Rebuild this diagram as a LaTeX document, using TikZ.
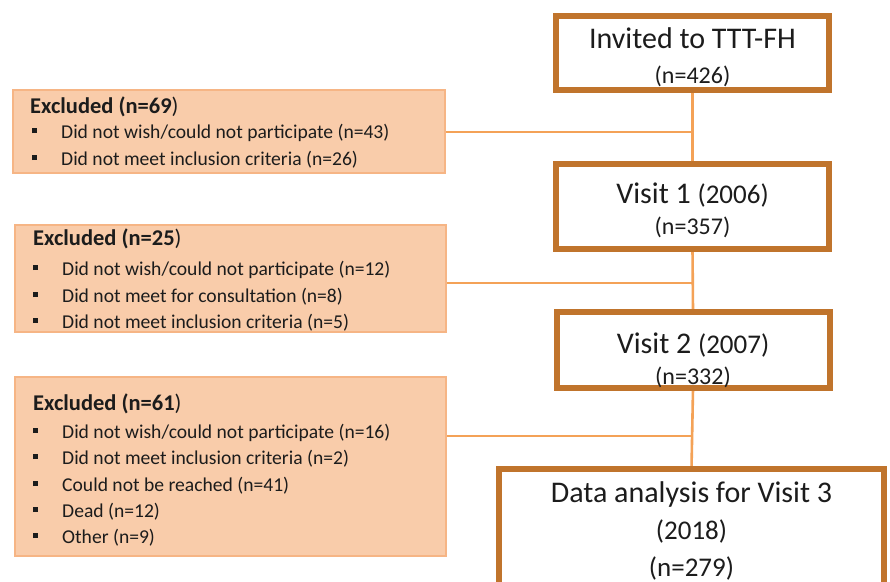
\documentclass[tikz,border=0pt]{standalone}
\usepackage{fontspec}
\setmainfont{Carlito}
\definecolor{mainborder}{HTML}{C0742C}
\definecolor{exfill}{HTML}{F9CCAA}
\definecolor{exborder}{HTML}{F6B585}
\definecolor{conn}{HTML}{F4A257}
\definecolor{txt}{HTML}{1C1C1C}
\tikzset{
  mainbox/.style={draw=mainborder, line width=4pt, fill=white, inner sep=0pt},
  exbox/.style={draw=exborder, line width=2pt, fill=exfill, inner sep=0pt},
  conline/.style={draw=conn, line width=2.6pt},
  bigtxt/.style={anchor=base, inner sep=0pt, text=txt, font=\fontsize{30}{36}\selectfont},
  midtxt/.style={anchor=base, inner sep=0pt, text=txt, font=\fontsize{27}{32}\selectfont},
  smalltxt/.style={anchor=base, inner sep=0pt, text=txt, font=\fontsize{24}{29}\selectfont},
  headtxt/.style={anchor=base west, inner sep=0pt, text=txt, font=\fontsize{22.5}{27}\selectfont},
  itemtxt/.style={anchor=base west, inner sep=0pt, text=txt, font=\fontsize{19.6}{24}\selectfont},
}
\newcommand{\bul}{\llap{\rule[5pt]{5pt}{5.5pt}\hspace{24pt}}}
\begin{document}
\begin{tikzpicture}[x=1pt,y=-1pt]
\useasboundingbox (0,0) rectangle (890,581);
\fill[white] (0,0) rectangle (890,581);

% main boxes
\node[mainbox, minimum width=271pt, minimum height=72pt] (inv) at (692.5,53) {};
\node[mainbox, minimum width=271pt, minimum height=83pt] (v1) at (692.5,206.5) {};
\node[mainbox, minimum width=271pt, minimum height=74pt] (v2) at (693,350) {};
\node[mainbox, minimum width=383pt, minimum height=130pt] (dat) at (691.5,535) {};

% exclusion boxes
\node[exbox, minimum width=432pt, minimum height=83pt] (ex1) at (229,131.5) {};
\node[exbox, minimum width=431pt, minimum height=107pt] (ex2) at (230.5,278.5) {};
\node[exbox, minimum width=431pt, minimum height=179pt] (ex3) at (230.5,466.5) {};

% connector coordinates
\coordinate (c1) at (692.5,132);
\coordinate (c2) at (692.5,283);
\coordinate (c3) at (692.5,436);

% connectors
\draw[conline] (inv.south) -- (v1.north);
\draw[conline] (v1.south) -- (v2.north);
\draw[conline] (v2.south) -- (dat.north);
\draw[conline] (c1 -| ex1.east) -- (c1);
\draw[conline] (c2 -| ex2.east) -- (c2);
\draw[conline] (c3 -| ex3.east) -- (c3);

% redraw main box borders over connectors
\draw[mainborder, line width=4pt] (inv.south west) rectangle (inv.north east);
\draw[mainborder, line width=4pt] (v1.south west) rectangle (v1.north east);
\draw[mainborder, line width=4pt] (v2.south west) rectangle (v2.north east);
\draw[mainborder, line width=4pt] (dat.south west) rectangle (dat.north east);

% main box texts
\node[bigtxt] (inva) at (692.5,48) {Invited to TTT-FH};
\node[smalltxt] (invb) at (692.5,83) {(n=426)};
\node[bigtxt] (v1a) at (692.5,203) {Visit 1 {\fontsize{27}{32}\selectfont(2006)}};
\node[smalltxt] (v1b) at (692.5,234) {(n=357)};
\node[bigtxt] (v2a) at (693,353) {Visit 2 {\fontsize{27}{32}\selectfont(2007)}};
\node[smalltxt] (v2b) at (693,384) {(n=332)};
\node[bigtxt] (data) at (691.5,502) {Data analysis for Visit 3};
\node[midtxt] (datb) at (691.5,539) {(2018)};
\node[midtxt] (datc) at (691.5,576) {(n=279)};

% exclusion texts
\node[headtxt] (e1h) at (30,113) {\textbf{Excluded (n=69})};
\node[itemtxt] (e1i1) at (61,138) {\bul Did not wish/could not participate (n=43)};
\node[itemtxt] (e1i2) at (61,165) {\bul Did not meet inclusion criteria (n=26)};

\node[headtxt] (e2h) at (33,245) {\textbf{Excluded (n=25})};
\node[itemtxt] (e2i1) at (62,275) {\bul Did not wish/could not participate (n=12)};
\node[itemtxt] (e2i2) at (62,302) {\bul Did not meet for consultation (n=8)};
\node[itemtxt] (e2i3) at (62,328) {\bul Did not meet inclusion criteria (n=5)};

\node[headtxt] (e3h) at (33,410) {\textbf{Excluded (n=61})};
\node[itemtxt] (e3i1) at (62,438) {\bul Did not wish/could not participate (n=16)};
\node[itemtxt] (e3i2) at (62,464) {\bul Did not meet inclusion criteria (n=2)};
\node[itemtxt] (e3i3) at (62,491) {\bul Could not be reached (n=41)};
\node[itemtxt] (e3i4) at (62,517) {\bul Dead (n=12)};
\node[itemtxt] (e3i5) at (62,543) {\bul Other (n=9)};
\end{tikzpicture}
\end{document}
